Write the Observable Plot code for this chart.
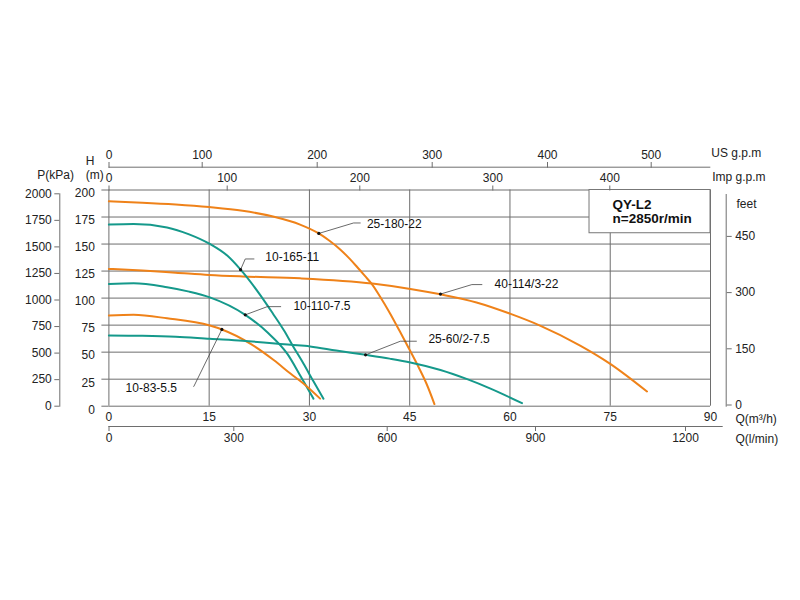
<!DOCTYPE html>
<html><head><meta charset="utf-8">
<script src="https://cdn.jsdelivr.net/npm/d3@7"></script>
<script src="https://cdn.jsdelivr.net/npm/@observablehq/plot@0.6"></script>
<style>
html,body{margin:0;padding:0;background:#fff;}
#chart{position:relative;width:800px;height:600px;overflow:hidden;}
#chart svg{position:absolute;left:0;top:0;}
</style></head><body><div id="chart"></div>
<script>
// ---- tick labels ----
const qTicks = [0, 15, 30, 45, 60, 75, 90];
const hTicks = [0, 25, 50, 75, 100, 125, 150, 175, 200];
const kpaTicks = [0, 250, 500, 750, 1000, 1250, 1500, 1750, 2000];
const feetTicks = [0, 150, 300, 450];
const usTicks = [0, 100, 200, 300, 400, 500];
const impTicks = [0, 100, 200, 300, 400];
const lminTicks = [0, 300, 600, 900, 1200];

// ---- series (Q in m3/h, H in m) ----
const q_25_180_22 = [0, 5, 10, 15, 20, 24.7, 28.6, 31.4, 33, 34.6, 36, 37.1, 38.3, 39.4, 40.6, 42, 43.5, 45, 46.3, 47.5, 48.7];
const h_25_180_22 = [189.5, 188.3, 186.6, 184.2, 180.8, 175.2, 168, 159.8, 153, 145, 136.5, 129, 120.5, 112.5, 101, 86.5, 69.5, 52, 36.5, 21, 2];
const q_40_114 = [0, 5, 10, 15, 20, 28.6, 39.4, 45.1, 49.6, 55, 60.1, 64.5, 70.5, 75, 80.5];
const h_40_114 = [127, 125.5, 123.5, 121.4, 120, 118.3, 113.5, 108.5, 103.5, 96, 85.4, 74.6, 56.1, 39.2, 13.6];
const q_10_165_11 = [0, 3.7, 8.7, 12, 15.1, 17.7, 19.7, 22.7, 24.5, 26.2, 27.5, 29.1, 30.6, 32.1];
const h_10_165_11 = [168, 168.6, 165.4, 159, 150.1, 139.3, 126.3, 102.3, 86, 70, 56, 39.5, 23, 7];
const q_10_110_75 = [0, 3.7, 8.7, 12, 15.1, 20.4, 23.7, 26.7, 28.75, 30.6];
const h_10_110_75 = [113.1, 113.7, 110, 106, 100.7, 84.5, 68.4, 48.4, 27, 7];
const q_10_83_55 = [0, 3.7, 8.7, 15.1, 16.9, 21.2, 24.7, 27.2, 29.1, 31.6];
const h_10_83_55 = [84, 84.5, 81.3, 74.6, 71, 57.7, 42.5, 30, 21, 7];
const q_25_60 = [0, 5, 10, 15.1, 20, 27.2, 30.1, 34, 38.4, 42, 45.1, 49.6, 53.6, 57, 61.8];
const h_25_60 = [65.5, 65.2, 64.3, 62.3, 60.5, 56.8, 55.3, 51.5, 47.5, 44, 40.5, 33.5, 25, 16.5, 2.8];

const seriesNames = ["25-180-22", "40-114/3-22", "10-165-11", "10-110-7.5", "10-83-5.5", "25-60/2-7.5"];
const seriesQ = [q_25_180_22, q_40_114, q_10_165_11, q_10_110_75, q_10_83_55, q_25_60];
const seriesH = [h_25_180_22, h_40_114, h_10_165_11, h_10_110_75, h_10_83_55, h_25_60];
const seriesColor = ["#ef8219", "#ef8219", "#15998b", "#15998b", "#ef8219", "#15998b"];

// ---- curve labels (leader: dot -> elbow -> end, then text) ----
const labelNames = ["25-180-22", "10-165-11", "10-110-7.5", "10-83-5.5", "25-60/2-7.5", "40-114/3-22"];
const labelDotQ = [31.4, 19.7, 20.4, 16.9, 38.4, 49.6];
const labelDotH = [159.8, 126.3, 84.5, 71, 47.5, 103.7];
const labelElbowQ = [36.6, 20.4, 23.7, 12.7, 43.6, 54.3];
const labelElbowH = [169.5, 136.2, 92.1, 18.2, 60.1, 112.5];
const labelEndQ = [37.6, 21.7, 25.7, 12.7, 46.0, 55.8];
const labelTextQ = [38.6, 23.4, 27.6, 2.5, 47.8, 57.7];
const labelTextH = [168.8, 137.5, 92.4, 17, 61.6, 112.5];

const modelTitle = "QY-L2\nn=2850r/min";

// ---- build tables ----
const curveRows = seriesNames.flatMap((name, i) =>
  seriesQ[i].map((q, j) => ({name, q, h: seriesH[i][j], color: seriesColor[i]})));
const leaderRows = labelNames.flatMap((name, i) => [
  {name, q: labelDotQ[i], h: labelDotH[i]},
  {name, q: labelElbowQ[i], h: labelElbowH[i]},
  {name, q: labelEndQ[i], h: labelElbowH[i]}
]);
const labelRows = labelNames.map((name, i) => ({name, dq: labelDotQ[i], dh: labelDotH[i], tq: labelTextQ[i], th: labelTextH[i]}));

const FONT = "'Liberation Sans', Arial, sans-serif";
const GRID = "#6e6e6e";
const TXT = "#222";
const baseStyle = {fontFamily: FONT, fontSize: "12px", background: "none", overflow: "visible", color: TXT};
const fmt = d => String(d);
const chart = document.getElementById("chart");
const unit = (label, frameAnchor, dx, dy, extra = {}) =>
  Plot.text([label], {frameAnchor, dx, dy, lineAnchor: "middle", fill: TXT, ...extra});

// ---- main plot ----
const main = Plot.plot({
  width: 800, height: 600,
  marginLeft: 108.4, marginRight: 90, marginTop: 189.5, marginBottom: 194.3,
  x: {domain: [0, 90]},
  y: {domain: [0, 200]},
  style: {...baseStyle, background: "#fff"},
  marks: [
    Plot.gridY(hTicks, {stroke: GRID, strokeOpacity: 1}),
    Plot.gridX(qTicks, {stroke: GRID, strokeOpacity: 1}),
    Plot.axisY(hTicks, {anchor: "left", tickSize: 7, stroke: GRID, tickFormat: () => ""}),
    Plot.axisY(hTicks, {anchor: "left", tickSize: 0, tickPadding: 14, dy: 3.5, tickFormat: fmt, fill: TXT}),
    Plot.axisX(qTicks, {anchor: "bottom", tickSize: 0, tickPadding: 6, tickFormat: fmt, fill: TXT}),
    Plot.rect([modelTitle], {x1: 71.9, x2: 90, y1: 160, y2: 200, fill: "#fff", stroke: "#777", strokeWidth: 1}),
    Plot.text([modelTitle], {x: 71.9, y: 200, dx: 23, dy: 21.3, textAnchor: "start", lineAnchor: "middle", lineHeight: 1.1, fontSize: 13.5, fontWeight: "bold", fill: "#111"}),
    Plot.line(curveRows, {x: "q", y: "h", z: "name", stroke: "color", strokeWidth: 2, curve: "monotone-x"}),
    Plot.line(leaderRows, {x: "q", y: "h", z: "name", stroke: "#444", strokeWidth: 0.8}),
    Plot.dot(labelRows, {x: "dq", y: "dh", r: 1.6, fill: "#111"}),
    Plot.text(labelRows, {x: "tq", y: "th", text: "name", textAnchor: "start", fontSize: 12, fill: "#111"}),
    unit("Imp g.p.m", "top-right", 1.7, -12.8, {textAnchor: "start"}),
    unit("feet", "top-right", 26, 14.5, {textAnchor: "start"}),
    unit("Q(m³/h)", "bottom-right", 25, 12.8, {textAnchor: "start", fontSize: 12}),
    unit("Q(l/min)", "bottom-right", 25, 32.5, {textAnchor: "start", fontSize: 12}),
    unit("H", "top-left", -23.1, -28.8),
    unit("(m)", "top-left", -23.1, -14.5),
    unit("P(kPa)", "top-left", -71.7, -15.2)
  ]
});
chart.appendChild(main);

// ---- US g.p.m axis ----
chart.appendChild(Plot.plot({
  width: 800, height: 600,
  marginLeft: 108.5, marginRight: 90.7, marginTop: 166.7, marginBottom: 400,
  x: {type: "linear", domain: usTicks, range: [108.5, 201.7, 316.7, 431.7, 547, 650.7]},
  style: baseStyle,
  marks: [
    Plot.frame({anchor: "top", stroke: GRID}),
    Plot.axisX(usTicks, {anchor: "top", tickSize: 5.7, tickPadding: 3, stroke: GRID, fill: TXT, tickFormat: fmt}),
    unit("US g.p.m", "top-right", 1.5, -14, {textAnchor: "start"})
  ]
}));

// ---- Imp g.p.m axis ----
chart.appendChild(Plot.plot({
  width: 800, height: 600,
  marginLeft: 108.5, marginRight: 90, marginTop: 189.5, marginBottom: 194.3,
  x: {type: "linear", domain: impTicks, range: [108.5, 226.7, 359.3, 492.3, 609.3]},
  style: baseStyle,
  marks: [
    Plot.axisX(impTicks, {anchor: "top", tickSize: 5, tickPadding: 3, stroke: GRID, fill: TXT, tickFormat: fmt})
  ]
}));

// ---- Q (l/min) axis ----
chart.appendChild(Plot.plot({
  width: 800, height: 600,
  marginLeft: 108.4, marginRight: 78.3, marginTop: 200, marginBottom: 174,
  x: {type: "linear", domain: lminTicks, range: [108.5, 233.3, 386.7, 535, 685]},
  style: baseStyle,
  marks: [
    Plot.frame({anchor: "bottom", stroke: GRID}),
    Plot.axisX(lminTicks, {anchor: "bottom", tickSize: 5, tickPadding: 2, stroke: GRID, fill: TXT, tickFormat: fmt})
  ]
}));

// ---- P (kPa) axis ----
chart.appendChild(Plot.plot({
  width: 800, height: 600,
  marginLeft: 59.3, marginRight: 600, marginTop: 193.3, marginBottom: 194.3,
  y: {domain: [0, 2000]},
  style: baseStyle,
  marks: [
    Plot.frame({anchor: "left", stroke: GRID}),
    Plot.axisY(kpaTicks, {anchor: "left", tickSize: 5, tickPadding: 3, stroke: GRID, fill: TXT, tickFormat: fmt})
  ]
}));

// ---- feet axis ----
chart.appendChild(Plot.plot({
  width: 800, height: 600,
  marginLeft: 600, marginRight: 74.3, marginTop: 194, marginBottom: 194.3,
  y: {domain: [0, 450], range: [405.3, 236.7]},
  style: baseStyle,
  marks: [
    Plot.frame({anchor: "right", stroke: GRID}),
    Plot.axisY(feetTicks, {anchor: "right", tickSize: 5, tickPadding: 4, stroke: GRID, fill: TXT, tickFormat: fmt, dy: -0.8})
  ]
}));
</script>
</body></html>
